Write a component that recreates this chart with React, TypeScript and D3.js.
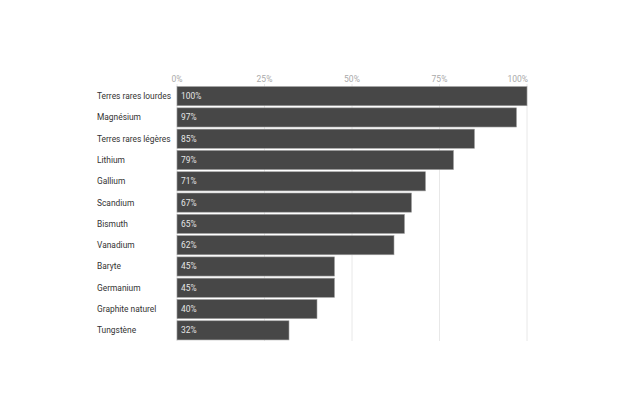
import React from "react";
import * as d3 from "d3";

const categories = [
  "Terres rares lourdes",
  "Magnésium",
  "Terres rares légères",
  "Lithium",
  "Gallium",
  "Scandium",
  "Bismuth",
  "Vanadium",
  "Baryte",
  "Germanium",
  "Graphite naturel",
  "Tungstène",
];
const values = [100, 97, 85, 79, 71, 67, 65, 62, 45, 45, 40, 32];
const ticks = [0, 25, 50, 75, 100];

const W = 624;
const H = 416;

export default function App() {
  const x = d3.scaleLinear().domain([0, 100]).range([177, 527]);
  const y = d3
    .scaleBand<string>()
    .domain(categories)
    .range([85.5, 341])
    .paddingInner(0.1)
    .paddingOuter(0.05);
  const font = "Roboto, 'Noto Sans', sans-serif";
  return (
    <svg
      width={W}
      height={H}
      style={{ position: "absolute", left: 0, top: 0, background: "#fff" }}
      fontFamily={font}
    >
      {ticks.map((t, i) => (
        <g key={t}>
          <line
            x1={x(t)}
            x2={x(t)}
            y1={84}
            y2={341}
            stroke="#e8e8e8"
            strokeWidth={1}
          />
          <text
            x={i === ticks.length - 1 ? x(t) + 1 : x(t)}
            y={81.5}
            textAnchor={i === ticks.length - 1 ? "end" : "middle"}
            fontSize={8.5}
            fill="#aaaaaa"
          >
            {t}%
          </text>
        </g>
      ))}
      {categories.map((c, i) => {
        const y0 = y(c)!;
        const bh = y.bandwidth();
        return (
          <g key={c}>
            <rect
              x={x(0)}
              y={y0}
              width={x(values[i]) - x(0)}
              height={bh}
              fill="#474747"
              stroke="#a0a0a0"
              strokeWidth={0.6}
            />
            <text
              x={97}
              y={y0 + bh / 2}
              dy="0.35em"
              fontSize={8.4}
              fill="#333333"
            >
              {c}
            </text>
            <text
              x={x(0) + 4}
              y={y0 + bh / 2}
              dy="0.35em"
              fontSize={8.4}
              fill="#e6e6e6"
            >
              {values[i]}%
            </text>
          </g>
        );
      })}
    </svg>
  );
}
